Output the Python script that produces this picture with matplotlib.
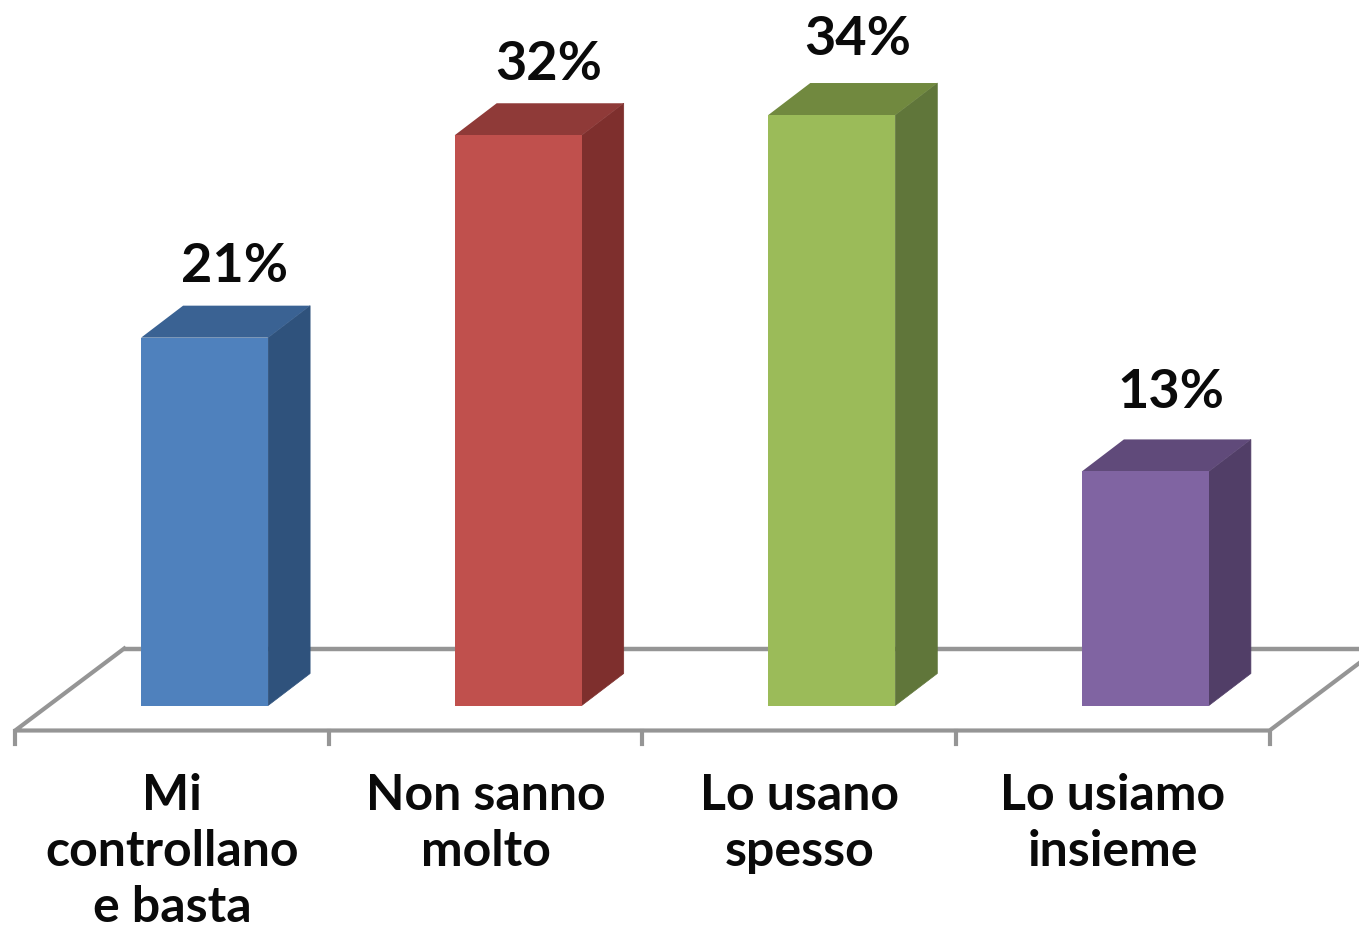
#!/usr/bin/env python3
"""Bar chart with fake 3D boxes: four answers, percent labels above."""

import matplotlib
matplotlib.use("Agg")
import matplotlib.pyplot as plt
from matplotlib.patches import Polygon

categories = ["Mi\ncontrollano\ne basta", "Non sanno\nmolto", "Lo usano\nspesso", "Lo usiamo\ninsieme"]
values = [20.9, 32.4, 33.55, 13.3]
value_labels = ["21%", "32%", "34%", "13%"]

front_colors = ["#4F81BD", "#C0504D", "#9BBB59", "#8064A2"]
side_colors = ["#2F527C", "#7E2F2D", "#60763A", "#513E67"]
top_colors = ["#3A6293", "#8F3A38", "#71893F", "#604A7A"]

# label placement relative to each box, in pixels
label_dx = [63, 63, 59, 58]
label_dy = [72, 72, 77, 80]

W, H = 1359, 928
PX_X = 313.6       # pixels per category
PX_Y = 17.6        # pixels per percent
X0_PX = 172        # pixel of first category centre
Y0_PX = 706.5      # pixel of value 0
BAR_SHIFT = 32.6 / PX_X
BAR_W = 127 / PX_X
DX = 42 / PX_X     # box depth
DY = 32 / PX_Y
FONT = "Lato"
GRAY = "#959595"

fig = plt.figure(figsize=(W / 100, H / 100), dpi=100)
ax = fig.add_axes([0, 0, 1, 1])
ax.set_xlim(-X0_PX / PX_X, (W - X0_PX) / PX_X)
ax.set_ylim((Y0_PX - H) / PX_Y, Y0_PX / PX_Y)
ax.axis("off")

# floor
floor_y = -25 / PX_Y
back_y = 57 / PX_Y
left = -0.5
right = 3.5
floor_dx = 109 / PX_X
ax.plot([left + floor_dx, right + floor_dx], [back_y, back_y], color=GRAY, lw=3.2,
        zorder=1, solid_capstyle="butt")
ax.plot([left + floor_dx, left, right, right + floor_dx],
        [back_y, floor_y, floor_y, back_y], color=GRAY, lw=3, zorder=1,
        solid_joinstyle="round")
for i in range(len(categories) + 1):
    ax.plot([left + i, left + i], [floor_y, floor_y - 13 / PX_Y], color=GRAY, lw=3, zorder=1)

# boxes
for i, v in enumerate(values):
    x0 = i + BAR_SHIFT - BAR_W / 2
    x1 = x0 + BAR_W
    ax.bar(x0, v, width=BAR_W, align="edge", color=front_colors[i], zorder=3)
    ax.add_patch(Polygon([(x1, 0), (x1 + DX, DY), (x1 + DX, v + DY), (x1, v)],
                         facecolor=side_colors[i], edgecolor=side_colors[i], lw=0.5, zorder=2))
    ax.add_patch(Polygon([(x0, v), (x0 + DX, v + DY), (x1 + DX, v + DY), (x1, v)],
                         facecolor=top_colors[i], edgecolor="none", zorder=2))
    ax.text(i + label_dx[i] / PX_X, v + label_dy[i] / PX_Y, value_labels[i],
            ha="center", va="center", fontsize=39, fontweight="bold", family=FONT, color="#0A0A0A")

for i, c in enumerate(categories):
    ax.text(i, -66 / PX_Y, c, ha="center", va="top", fontsize=36, fontweight="bold",
            family=FONT, color="#0A0A0A", linespacing=1.31)

fig.savefig("out.png", dpi=100)
